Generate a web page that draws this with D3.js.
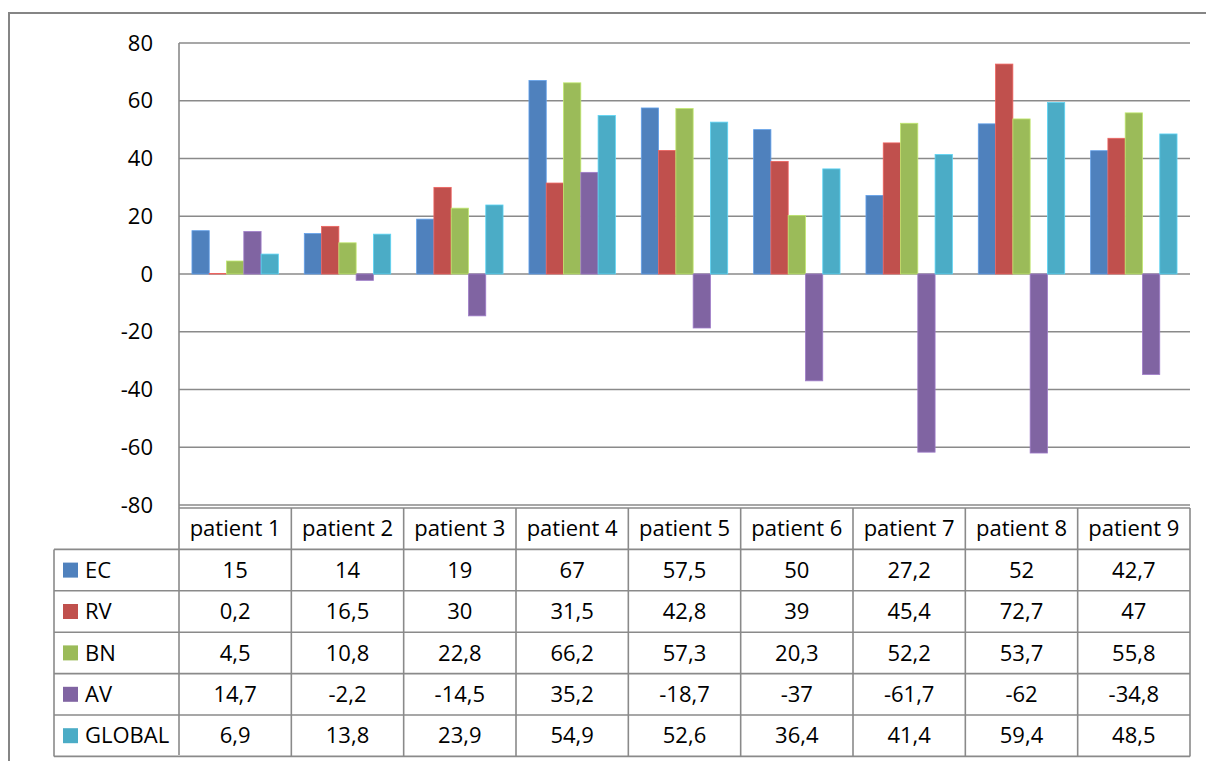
<!DOCTYPE html>
<html>
<head>
<meta charset="utf-8">
<script src="https://cdn.jsdelivr.net/npm/d3@7"></script>
<style>
  body { margin: 0; background: #fff; }
  svg text { font-family: "Open Sans", Lato, sans-serif; fill: #000; }
</style>
</head>
<body>
<svg id="chart" width="1206" height="761"></svg>
<script>
var categories = ["patient 1", "patient 2", "patient 3", "patient 4", "patient 5", "patient 6", "patient 7", "patient 8", "patient 9"];
var seriesNames = ["EC", "RV", "BN", "AV", "GLOBAL"];
var seriesColors = ["#4F81BD", "#C0504D", "#9BBB59", "#8064A2", "#4BACC6"];
var valEC = [15, 14, 19, 67, 57.5, 50, 27.2, 52, 42.7];
var valRV = [0.2, 16.5, 30, 31.5, 42.8, 39, 45.4, 72.7, 47];
var valBN = [4.5, 10.8, 22.8, 66.2, 57.3, 20.3, 52.2, 53.7, 55.8];
var valAV = [14.7, -2.2, -14.5, 35.2, -18.7, -37, -61.7, -62, -34.8];
var valGLOBAL = [6.9, 13.8, 23.9, 54.9, 52.6, 36.4, 41.4, 59.4, 48.5];
var yTicks = [80, 60, 40, 20, 0, -20, -40, -60, -80];

var seriesValues = [valEC, valRV, valBN, valAV, valGLOBAL];

var svg = d3.select("#chart");
var plotLeft = 179, plotRight = 1190, plotTop = 43, plotBottom = 505;
var gridColor = "#8a8a8a";
var fontSize = "22px";

// outer chart border
svg.append("path")
    .attr("d", "M9,762 L9,13 L1207,13")
    .attr("fill", "none")
    .attr("stroke", "#858585")
    .attr("stroke-width", 2);

var x = d3.scaleBand().domain(categories).range([plotLeft, plotRight]).padding(0);
var xs = d3.scaleBand().domain(seriesNames).range([0, x.bandwidth()])
    .paddingInner(0).paddingOuter(0.75);
var y = d3.scaleLinear().domain([-80, 80]).range([plotBottom, plotTop]);

// gridlines
svg.append("g").selectAll("line")
    .data(yTicks)
    .join("line")
    .attr("x1", plotLeft).attr("x2", plotRight)
    .attr("y1", function (d) { return y(d); })
    .attr("y2", function (d) { return y(d); })
    .attr("stroke", gridColor)
    .attr("stroke-width", 1.6);

// y labels
svg.append("g").selectAll("text")
    .data(yTicks)
    .join("text")
    .attr("x", 153)
    .attr("y", function (d) { return y(d); })
    .attr("dy", "0.35em")
    .attr("text-anchor", "end")
    .attr("font-size", fontSize)
    .text(function (d) { return d; });

// bars
var barData = [];
seriesNames.forEach(function (s, si) {
    categories.forEach(function (c, ci) {
        barData.push({ series: s, cat: c, value: seriesValues[si][ci], color: seriesColors[si] });
    });
});

svg.append("g").selectAll("rect")
    .data(barData)
    .join("rect")
    .attr("x", function (d) { return x(d.cat) + xs(d.series); })
    .attr("width", xs.bandwidth())
    .attr("y", function (d) { return Math.min(y(d.value), y(0)); })
    .attr("height", function (d) { return Math.abs(y(d.value) - y(0)); })
    .attr("fill", function (d) { return d.color; })
    .attr("stroke", function (d) { return d3.color(d.color).brighter(0.6); })
    .attr("stroke-width", 0.8);

// vertical axis line
svg.append("line")
    .attr("x1", plotLeft).attr("x2", plotLeft)
    .attr("y1", plotTop).attr("y2", 755)
    .attr("stroke", gridColor)
    .attr("stroke-width", 1.6);

// data table
var headTop = 508, rowH = 41.4, tableLeft = 54;
var rowTops = seriesNames.map(function (s, i) { return headTop + rowH * (i + 1); });
var tableBottom = headTop + rowH * 6;
var table = svg.append("g");

// horizontal lines
table.append("line")
    .attr("x1", plotLeft).attr("x2", plotRight)
    .attr("y1", headTop).attr("y2", headTop)
    .attr("stroke", gridColor).attr("stroke-width", 1.6);
table.selectAll(".hline")
    .data(rowTops.concat([tableBottom]))
    .join("line")
    .attr("class", "hline")
    .attr("x1", tableLeft).attr("x2", plotRight)
    .attr("y1", function (d) { return d; })
    .attr("y2", function (d) { return d; })
    .attr("stroke", gridColor).attr("stroke-width", 1.6);

// vertical lines
table.selectAll(".vline")
    .data(categories)
    .join("line")
    .attr("class", "vline")
    .attr("x1", function (d) { return x(d) + x.bandwidth(); })
    .attr("x2", function (d) { return x(d) + x.bandwidth(); })
    .attr("y1", headTop).attr("y2", tableBottom)
    .attr("stroke", gridColor).attr("stroke-width", 1.6);
table.append("line")
    .attr("x1", tableLeft).attr("x2", tableLeft)
    .attr("y1", rowTops[0]).attr("y2", tableBottom)
    .attr("stroke", gridColor).attr("stroke-width", 1.6);

// header labels
table.selectAll(".head")
    .data(categories)
    .join("text")
    .attr("class", "head")
    .attr("x", function (d) { return x(d) + x.bandwidth() / 2; })
    .attr("y", headTop + rowH / 2)
    .attr("dy", "0.35em")
    .attr("text-anchor", "middle")
    .attr("font-size", fontSize)
    .text(function (d) { return d; });

// row headers with legend keys
seriesNames.forEach(function (s, si) {
    var top = rowTops[si];
    table.append("rect")
        .attr("x", 63).attr("y", top + rowH / 2 - 7.5)
        .attr("width", 15).attr("height", 15)
        .attr("fill", seriesColors[si]);
    table.append("text")
        .attr("x", 85).attr("y", top + rowH / 2)
        .attr("dy", "0.35em")
        .attr("font-size", fontSize)
        .text(s);
    table.append("g").selectAll("text")
        .data(seriesValues[si])
        .join("text")
        .attr("x", function (d, i) { return x(categories[i]) + x.bandwidth() / 2; })
        .attr("y", top + rowH / 2)
        .attr("dy", "0.35em")
        .attr("text-anchor", "middle")
        .attr("font-size", fontSize)
        .text(function (d) { return String(d).replace(".", ","); });
});
</script>
</body>
</html>
